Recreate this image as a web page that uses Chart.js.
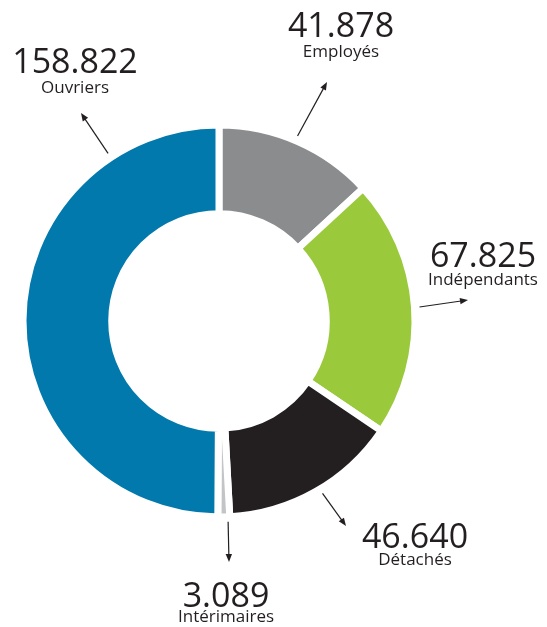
<!DOCTYPE html>
<html>
<head>
<meta charset="utf-8">
<script src="https://cdn.jsdelivr.net/npm/chart.js@4/dist/chart.umd.min.js"></script>
<style>
  html, body { margin: 0; padding: 0; background: #ffffff; }
  canvas { display: block; }
</style>
</head>
<body>
<canvas id="chart" width="547" height="627"></canvas>
<script>
// Workforce breakdown, clockwise from the top
const categories = ['Employés', 'Indépendants', 'Détachés', 'Intérimaires', 'Ouvriers'];
const values = [41878, 67825, 46640, 3089, 158822];
const sliceColors = ['#8b8c8e', '#9aca3c', '#231f20', '#c3c4c6', '#0179ad'];
const ink = '#231f20';

// Callout layout: arrow tail angle (degrees clockwise from 12 o'clock),
// arrow head point, value baseline and category baseline.
const callouts = [
  { tail: 23,    head: [327, 82],  x: 341, y: 37,  ly: 57 },
  { tail: 86,    head: [468, 300], x: 483, y: 267, ly: 285 },
  { tail: 149,   head: [346, 526], x: 415, y: 548, ly: 565 },
  { tail: 177.4, head: [229, 562], x: 226, y: 607, ly: 622 },
  { tail: 326.5, head: [81, 113],  x: 75,  y: 73,  ly: 93 }
];

// 158822 -> "158.822"
function formatValue(v) {
  return String(v).replace(/\B(?=(\d{3})+(?!\d))/g, '.');
}

const calloutPlugin = {
  id: 'callouts',
  afterDatasetsDraw(chart) {
    const ctx = chart.ctx;
    const meta = chart.getDatasetMeta(0);
    const ref = meta.data[0];
    const cx = ref.x, cy = ref.y, R = ref.outerRadius;
    ctx.save();
    ctx.fillStyle = ink;
    ctx.strokeStyle = ink;
    categories.forEach((name, i) => {
      const c = callouts[i];
      const t = (c.tail - 90) * Math.PI / 180;
      const tx = cx + (R + 5) * Math.cos(t);
      const ty = cy + (R + 5) * Math.sin(t);
      const hx = c.head[0], hy = c.head[1];
      const ang = Math.atan2(hy - ty, hx - tx);
      const L = 8, W = 3.2;
      const bx = hx - (L - 1) * Math.cos(ang), by = hy - (L - 1) * Math.sin(ang);
      ctx.lineWidth = 1.2;
      ctx.beginPath();
      ctx.moveTo(tx, ty);
      ctx.lineTo(bx, by);
      ctx.stroke();
      ctx.beginPath();
      ctx.moveTo(hx, hy);
      ctx.lineTo(hx - L * Math.cos(ang) + W * Math.sin(ang), hy - L * Math.sin(ang) - W * Math.cos(ang));
      ctx.lineTo(hx - L * Math.cos(ang) - W * Math.sin(ang), hy - L * Math.sin(ang) + W * Math.cos(ang));
      ctx.closePath();
      ctx.fill();

      ctx.textAlign = 'center';
      ctx.textBaseline = 'alphabetic';
      ctx.font = '34px "Open Sans"';
      ctx.fillText(formatValue(values[i]), c.x, c.y);
      ctx.font = '17px "Open Sans"';
      ctx.fillText(name, c.x, c.ly);
    });
    ctx.restore();
  }
};

new Chart(document.getElementById('chart'), {
  type: 'doughnut',
  data: {
    labels: categories,
    datasets: [{
      data: values,
      backgroundColor: sliceColors,
      borderColor: '#ffffff',
      borderWidth: 7,
      borderJoinStyle: 'miter',
      hoverOffset: 0
    }]
  },
  options: {
    responsive: false,
    animation: false,
    radius: 196,
    cutout: 107,
    layout: { padding: { left: 20, right: 129, top: 122, bottom: 107 } },
    plugins: {
      legend: { display: false },
      tooltip: { enabled: false }
    }
  },
  plugins: [calloutPlugin]
});
</script>
</body>
</html>
